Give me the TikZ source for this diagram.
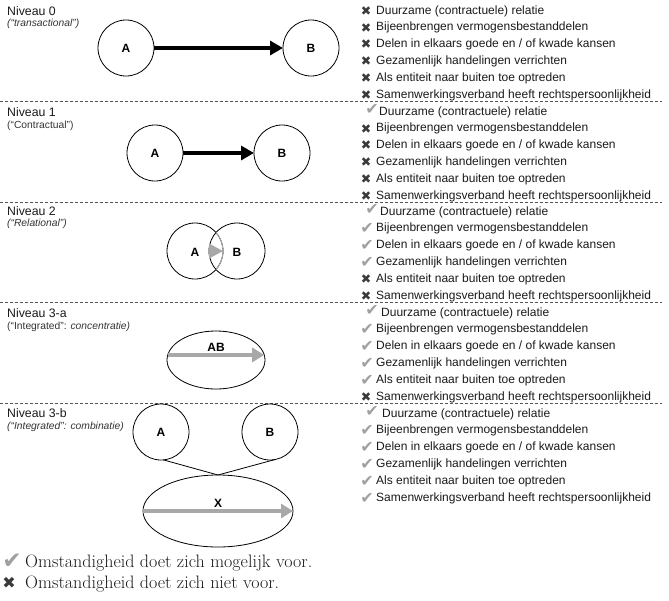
\documentclass[tikz,border=0pt]{standalone}
\usepackage{fontspec}
\newfontfamily\arial{Liberation Sans}
\newfontfamily\dejavu{DejaVu Sans}
\usetikzlibrary{arrows.meta,shapes.geometric}
\definecolor{chk}{HTML}{A0A0A0}
\definecolor{crs}{HTML}{3A3A3A}
\definecolor{agray}{HTML}{A8A8A8}
\definecolor{sepc}{HTML}{555555}
\definecolor{txt}{HTML}{1A1A1A}
\tikzset{
 item/.style={anchor=west, inner sep=0pt, text=txt, font=\arial\fontsize{12}{14}\selectfont, text height=8.6pt, text depth=2.5pt},
 lvl/.style={anchor=base west, inner sep=0pt, text=txt, font=\arial\fontsize{12.3}{14}\selectfont},
 sub/.style={anchor=base west, inner sep=0pt, text=black!80, font=\arial\fontsize{10.3}{12}\selectfont},
 circ/.style={circle, draw, line width=0.8pt, minimum size=56pt, inner sep=0pt, outer sep=0pt, font=\arial\bfseries\fontsize{12}{14}\selectfont},
 ell/.style={ellipse, draw, line width=0.8pt, inner sep=0pt, outer sep=0pt},
 lab/.style={font=\arial\bfseries\fontsize{12}{14}\selectfont, inner sep=0pt},
 blackarrow/.style={line width=3.2pt, -{Triangle[length=13pt,width=14pt]}},
 grayarrow/.style={draw=agray, line width=4pt, -{Triangle[length=12pt,width=14pt,fill=agray]}},
 sepline/.style={draw=sepc, line width=0.7pt, dash pattern=on 3pt off 2pt},
 chkicon/.style={text=chk, font=\dejavu\fontsize{16}{16}\selectfont, inner sep=0pt},
 crsicon/.style={text=crs, font=\dejavu\fontsize{12.5}{13}\selectfont, inner sep=0pt},
 legend/.style={anchor=west, inner sep=0pt, text=txt, font=\fontsize{18}{20}\selectfont, text height=12.5pt, text depth=3.5pt},
}
\begin{document}
\begin{tikzpicture}[x=1pt,y=-1pt]
\useasboundingbox (0,0) rectangle (669,600);

% separators
\foreach \yy in {101,202,302,403}{
  \draw[sepline] (0,\yy) -- (662,\yy);
}

% headings
\node[lvl] (h0) at (7,15) {Niveau 0};
\node[sub] (s0) at (7,26) {\itshape (“transactional”)};
\node[lvl] (h1) at (7,116) {Niveau 1};
\node[sub] (s1) at (7,128) {(“Contractual”)};
\node[lvl] (h2) at (7,215) {Niveau 2};
\node[sub] (s2) at (7,226) {\itshape (“Relational”)};
\node[lvl] (h3) at (7,317) {Niveau 3-a};
\node[sub] (s3) at (7,329) {(“Integrated”: \itshape concentratie)};
\node[lvl] (h4) at (7,417) {Niveau 3-b};
\node[sub] (s4) at (7,429) {\itshape (“Integrated”: combinatie)};

% level 0
\node[circ] (A0) at (126,48) {A};
\node[circ] (B0) at (311,48) {B};
\draw[blackarrow] (A0) -- (B0);

% level 1
\node[circ] (A1) at (155,153) {A};
\node[circ] (B1) at (282,153) {B};
\draw[blackarrow] (A1) -- (B1);

% level 2
\node[circ] (A2) at (195,251) {};
\node[circ] (B2) at (237,251) {};
\draw[agray, line width=1pt] (A2) ++(-41.4:28) arc[start angle=-41.4, end angle=41.4, radius=28];
\fill[agray] (B2.west) ++(0,-7.5) -- ++(0,15) -- (A2.east) -- cycle;
\node[lab] (la2) at (195,252) {A};
\node[lab] (lb2) at (237,252) {B};

% level 3-a
\node[ell, minimum width=98pt, minimum height=58pt] (E3) at (216,360) {};
\node[lab] (l3) at (216,347) {AB};
\draw[grayarrow] (E3.174) -- (E3.6);

% level 3-b
\node[circ] (A4) at (161,432) {A};
\node[circ] (B4) at (270,432) {B};
\node[ell, minimum width=150pt, minimum height=72pt] (E4) at (218,511) {};
\node[lab] (l4) at (218,503) {X};
\draw[line width=0.8pt] (A4.-85) -- (E4.north) -- (B4.-80);
\draw[grayarrow] (E4.west) -- (E4.east);

% lists
\foreach \s/\k/\yb in {0/0/11, 1/1/112, 2/4/212, 3/5/313, 4/6/414}{
  \foreach \t [count=\i] in {{Duurzame (contractuele) relatie},{Bijeenbrengen vermogensbestanddelen},{Delen in elkaars goede en / of kwade kansen},{Gezamenlijk handelingen verrichten},{Als entiteit naar buiten toe optreden},{Samenwerkingsverband heeft rechtspersoonlijkheid}}{
    \pgfmathsetmacro\yy{\yb+16.8*(\i-1)}
    \ifnum\i>\k
      \node[crsicon] (ic\s-\i) at (366,\yy) {✖};
      \node[item] (t\s-\i) at (376,\yy) {\t};
    \else
      \ifnum\i=1
        \node[chkicon] (ic\s-\i) at (372,\yy-3) {✔};
        \node[item] (t\s-\i) at (378+\s,\yy) {\t};
      \else
        \node[chkicon] (ic\s-\i) at (367,\yy) {✔};
        \node[item] (t\s-\i) at (376,\yy) {\t};
      \fi
    \fi
  }
}

% legend
\node[chkicon, font=\dejavu\fontsize{23}{23}\selectfont] (lc) at (12,561) {✔};
\node[crsicon, font=\dejavu\fontsize{16}{16}\selectfont] (lx) at (9,583) {✖};
\node[legend] (lt1) at (25,563) {Omstandigheid doet zich mogelijk voor.};
\node[legend] (lt2) at (25,584) {Omstandigheid doet zich niet voor.};
\end{tikzpicture}
\end{document}
